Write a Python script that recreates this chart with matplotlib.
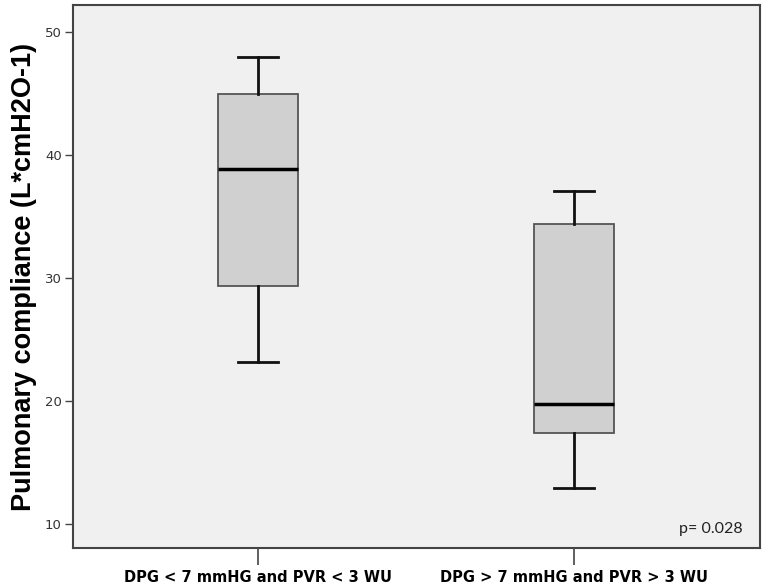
import matplotlib
matplotlib.use("Agg")
import matplotlib.pyplot as plt

# box statistics
groups = ["DPG < 7 mmHG and PVR < 3 WU", "DPG > 7 mmHG and PVR > 3 WU"]
whislo = [23.2, 12.9]
q1 = [29.4, 17.4]
med = [38.9, 19.8]
q3 = [45.0, 34.4]
whishi = [48.0, 37.1]
p_text = "p= 0.028"

stats = []
for i in range(len(groups)):
    stats.append({"label": groups[i], "whislo": whislo[i], "q1": q1[i],
                  "med": med[i], "q3": q3[i], "whishi": whishi[i], "fliers": []})

fig = plt.figure(figsize=(7.71, 5.85), dpi=100)
ax = fig.add_axes([0.0947, 0.0632, 0.891, 0.928])
ax.set_facecolor("#f0f0f0")

ax.bxp(stats, positions=[1, 2], widths=0.254, patch_artist=True, showfliers=False,
       boxprops=dict(facecolor="#d0d0d0", edgecolor="#555555", linewidth=1.3),
       whiskerprops=dict(color="#111111", linewidth=2),
       capprops=dict(color="#111111", linewidth=2),
       medianprops=dict(color="#000000", linewidth=2.5),
       capwidths=0.127)

ax.set_xlim(0.413, 2.59)
ax.set_ylim(8.05, 52.2)
ax.set_yticks([10, 20, 30, 40, 50])

for s in ax.spines.values():
    s.set_color("#444444")
    s.set_linewidth(1.5)

ax.tick_params(axis="y", length=6, width=1, color="#444444", labelsize=9.5,
               labelcolor="#333333", pad=2)
ax.tick_params(axis="x", length=12, width=1.2, color="#444444", pad=4)
ax.set_xticklabels(groups, fontsize=10.5, fontweight="bold",
                   family=["Liberation Sans Narrow", "DejaVu Sans"])

ax.set_ylabel("Pulmonary compliance (L*cmH2O-1)", fontsize=19.5, fontweight="bold",
              family=["Liberation Sans", "DejaVu Sans"], labelpad=6)

ax.text(0.975, 0.022, p_text, transform=ax.transAxes, ha="right", va="bottom",
        fontsize=11.5, family=["Lato", "DejaVu Sans"], color="#222222")

fig.savefig("out.png", dpi=100)
